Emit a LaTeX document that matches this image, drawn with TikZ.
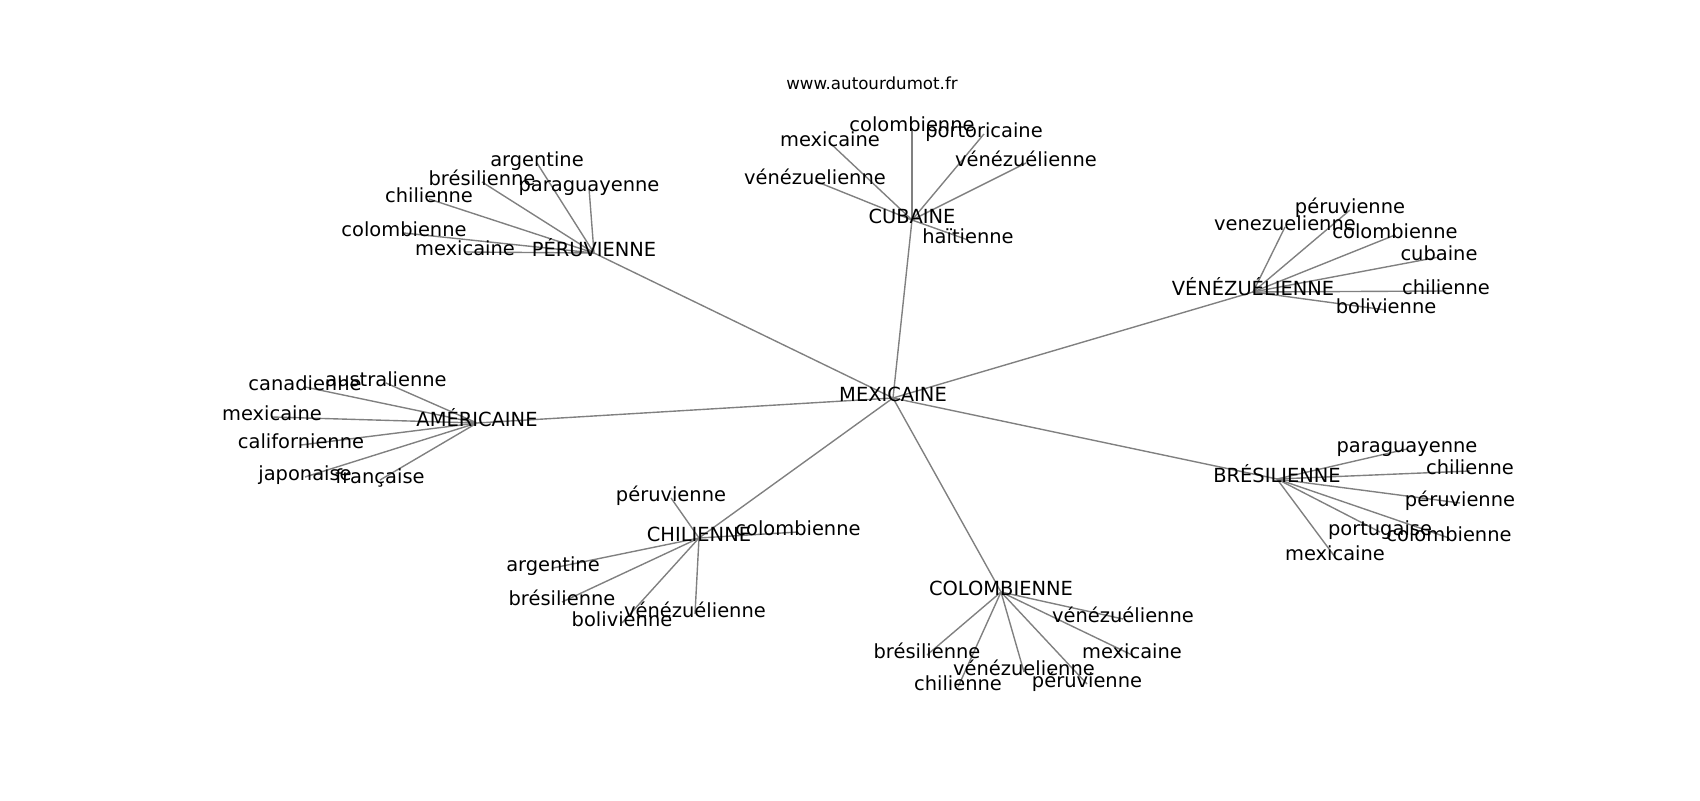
\documentclass[tikz,border=0pt]{standalone}
\usepackage{fontspec}
\setmainfont{DejaVu Sans}
\usetikzlibrary{backgrounds}
\tikzset{
  lbl/.style={font=\fontsize{14}{16}\selectfont, inner sep=0pt, text height=0.76em, text depth=0.24em, anchor=center},
  ttl/.style={font=\fontsize{12}{14}\selectfont, inner sep=0pt, text height=0.76em, text depth=0.24em, anchor=center},
  edge/.style={draw=gray, line width=1pt}
}
\begin{document}
\begin{tikzpicture}[x=0.72pt, y=-0.72pt]
\useasboundingbox (0,0) rectangle (1700,800);
\node[ttl] (title) at (872,86) {www.autourdumot.fr};
\begin{scope}[shift={(0,5)}]
% hubs
\node[lbl] (mex) at (893,393) {MEXICAINE};
\node[lbl] (per) at (594,248) {PÉRUVIENNE};
\node[lbl] (cub) at (912,215) {CUBAINE};
\node[lbl] (ven) at (1253,287) {VÉNÉZUÉLIENNE};
\node[lbl] (ame) at (477,418) {AMÉRICAINE};
\node[lbl] (bre) at (1277,474) {BRÉSILIENNE};
\node[lbl] (chi) at (699,533) {CHILIENNE};
\node[lbl] (col) at (1001,587) {COLOMBIENNE};
% PERUVIENNE leaves
\node[lbl] (p1) at (537,158) {argentine};
\node[lbl] (p2) at (482,177) {brésilienne};
\node[lbl] (p3) at (589,183) {paraguayenne};
\node[lbl] (p4) at (429,194) {chilienne};
\node[lbl] (p5) at (404,228) {colombienne};
\node[lbl] (p6) at (465,247) {mexicaine};
% CUBAINE leaves
\node[lbl] (c1) at (912,123) {colombienne};
\node[lbl] (c2) at (984,129) {portoricaine};
\node[lbl] (c3) at (830,138) {mexicaine};
\node[lbl] (c4) at (1026,158) {vénézuélienne};
\node[lbl] (c5) at (815,176) {vénézuelienne};
\node[lbl] (c6) at (968,235) {haïtienne};
% VENEZUELIENNE leaves
\node[lbl] (v1) at (1350,205) {péruvienne};
\node[lbl] (v2) at (1285,222) {venezuelienne};
\node[lbl] (v3) at (1395,230) {colombienne};
\node[lbl] (v4) at (1439,252) {cubaine};
\node[lbl] (v5) at (1446,286) {chilienne};
\node[lbl] (v6) at (1386,305) {bolivienne};
% AMERICAINE leaves
\node[lbl] (a1) at (305,382) {canadienne};
\node[lbl] (a2) at (386,378) {australienne};
\node[lbl] (a3) at (272,412) {mexicaine};
\node[lbl] (a4) at (301,440) {californienne};
\node[lbl] (a5) at (305,472) {japonaise};
\node[lbl] (a6) at (380,475) {française};
% CHILIENNE leaves
\node[lbl] (h1) at (671,493) {péruvienne};
\node[lbl] (h2) at (798,527) {colombienne};
\node[lbl] (h3) at (553,563) {argentine};
\node[lbl] (h4) at (562,597) {brésilienne};
\node[lbl] (h5) at (695,609) {vénézuélienne};
\node[lbl] (h6) at (622,618) {bolivienne};
% COLOMBIENNE leaves
\node[lbl] (o1) at (1123,614) {vénézuélienne};
\node[lbl] (o2) at (927,650) {brésilienne};
\node[lbl] (o3) at (1132,650) {mexicaine};
\node[lbl] (o4) at (1024,667) {vénézuelienne};
\node[lbl] (o5) at (958,682) {chilienne};
\node[lbl] (o6) at (1087,679) {péruvienne};
% BRESILIENNE leaves
\node[lbl] (b1) at (1407,444) {paraguayenne};
\node[lbl] (b2) at (1470,466) {chilienne};
\node[lbl] (b3) at (1460,498) {péruvienne};
\node[lbl] (b4) at (1380,527) {portugaise};
\node[lbl] (b5) at (1449,533) {colombienne};
\node[lbl] (b6) at (1335,552) {mexicaine};
\end{scope}
\begin{scope}[on background layer]
\foreach \h in {per,cub,ven,ame,bre,chi,col}
  \draw[edge] (mex.center) -- (\h.center);
\foreach \l in {p1,p2,p3,p4,p5,p6}
  \draw[edge] (per.center) -- (\l.center);
\foreach \l in {c1,c2,c3,c4,c5,c6}
  \draw[edge] (cub.center) -- (\l.center);
\foreach \l in {v1,v2,v3,v4,v5,v6}
  \draw[edge] (ven.center) -- (\l.center);
\foreach \l in {a1,a2,a3,a4,a5,a6}
  \draw[edge] (ame.center) -- (\l.center);
\foreach \l in {h1,h2,h3,h4,h5,h6}
  \draw[edge] (chi.center) -- (\l.center);
\foreach \l in {o1,o2,o3,o4,o5,o6}
  \draw[edge] (col.center) -- (\l.center);
\foreach \l in {b1,b2,b3,b4,b5,b6}
  \draw[edge] (bre.center) -- (\l.center);
\end{scope}
\end{tikzpicture}
\end{document}
